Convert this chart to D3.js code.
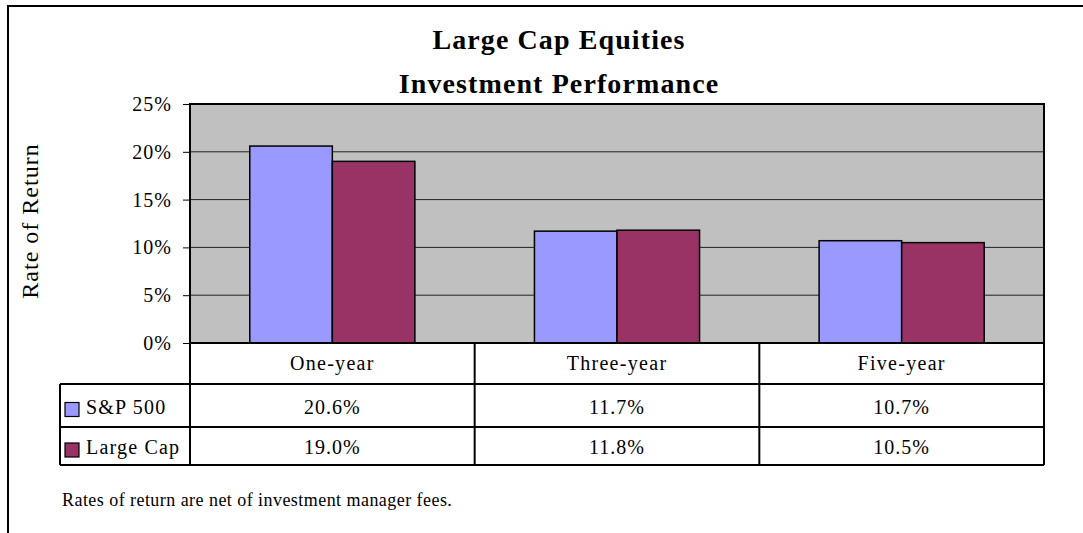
<!DOCTYPE html>
<html>
<head>
<meta charset="utf-8">
<script src="https://cdn.jsdelivr.net/npm/d3@7"></script>
<style>
  body { margin: 0; background: #fff; }
  svg text { font-family: "Liberation Serif", "Times New Roman", serif; fill: #000; }
</style>
</head>
<body>
<div id="chart"></div>
<script>
// chart data
var categories = ["One-year", "Three-year", "Five-year"];
var seriesNames = ["S&P 500", "Large Cap"];
var sp500 = [0.206, 0.117, 0.107];
var largeCap = [0.190, 0.118, 0.105];
var yTicks = [0, 0.05, 0.10, 0.15, 0.20, 0.25];
var titleLines = ["Large Cap Equities", "Investment Performance"];
var footnote = "Rates of return are net of investment manager fees.";

var seriesColor = d3.scaleOrdinal()
  .domain(seriesNames)
  .range(["#9999ff", "#993366"]);

var width = 1083, height = 533;
var plotLeft = 190, plotRight = 1044, plotTop = 104, plotBottom = 343;
var tableLeft = 60;
var rowTops = [343, 384, 427, 465];

var svg = d3.select("#chart").append("svg")
  .attr("width", width)
  .attr("height", height);

// outer chart frame, runs off the right and bottom edge
svg.append("rect")
  .attr("x", 8).attr("y", 6)
  .attr("width", 1200).attr("height", 700)
  .attr("fill", "none")
  .attr("stroke", "#000")
  .attr("stroke-width", 2);

// title
svg.append("g").selectAll("text")
  .data(titleLines)
  .enter().append("text")
    .attr("x", 559)
    .attr("y", (d, i) => 49 + i * 44)
    .attr("text-anchor", "middle")
    .attr("font-size", 28)
    .attr("font-weight", "bold")
    .attr("letter-spacing", 1.1)
    .text(d => d);

// scales
var x0 = d3.scaleBand().domain(categories).range([plotLeft, plotRight]);
var bw = x0.bandwidth();
var x1 = d3.scaleBand().domain(seriesNames).range([bw * 0.21, bw * 0.79]);
var y = d3.scaleLinear().domain([0, 0.25]).range([plotBottom, plotTop]);

// plot background
svg.append("rect")
  .attr("x", plotLeft).attr("y", plotTop)
  .attr("width", plotRight - plotLeft).attr("height", plotBottom - plotTop)
  .attr("fill", "#c0c0c0");

// gridlines
svg.append("g").selectAll("line")
  .data(yTicks.slice(1, -1))
  .enter().append("line")
    .attr("x1", plotLeft).attr("x2", plotRight)
    .attr("y1", d => y(d)).attr("y2", d => y(d))
    .attr("stroke", "#222")
    .attr("stroke-width", 1);

// y axis
var yAxis = svg.append("g")
  .attr("transform", "translate(" + plotLeft + ",0)")
  .call(d3.axisLeft(y).tickValues(yTicks).tickFormat(d3.format(".0%")).tickSize(7).tickPadding(11));
yAxis.select(".domain").remove();
yAxis.attr("font-family", "Liberation Serif").attr("font-size", 20);
yAxis.selectAll("line").attr("stroke", "#000");
yAxis.selectAll("text").attr("letter-spacing", 1);

svg.append("text")
  .attr("transform", "translate(38,221) rotate(-90)")
  .attr("text-anchor", "middle")
  .attr("font-size", 24)
  .attr("letter-spacing", 1)
  .text("Rate of Return");

// bars
var rows = categories.map((c, i) => ({cat: c, values: [sp500[i], largeCap[i]]}));
var groups = svg.append("g").selectAll("g")
  .data(rows)
  .enter().append("g")
    .attr("transform", d => "translate(" + x0(d.cat) + ",0)");
groups.selectAll("rect")
  .data(d => d.values.map((v, j) => ({name: seriesNames[j], value: v})))
  .enter().append("rect")
    .attr("x", d => x1(d.name))
    .attr("y", d => y(d.value))
    .attr("width", x1.bandwidth())
    .attr("height", d => y(0) - y(d.value))
    .attr("fill", d => seriesColor(d.name))
    .attr("stroke", "#000")
    .attr("stroke-width", 1.5);

// plot border
svg.append("rect")
  .attr("x", plotLeft).attr("y", plotTop)
  .attr("width", plotRight - plotLeft).attr("height", plotBottom - plotTop)
  .attr("fill", "none")
  .attr("stroke", "#000")
  .attr("stroke-width", 2);

// data table
var table = svg.append("g").attr("stroke", "#000").attr("stroke-width", 2);
table.append("line").attr("x1", plotLeft).attr("x2", plotLeft).attr("y1", rowTops[0]).attr("y2", rowTops[3]);
table.append("line").attr("x1", plotRight).attr("x2", plotRight).attr("y1", rowTops[0]).attr("y2", rowTops[3]);
table.selectAll(".vdiv")
  .data(categories.slice(1))
  .enter().append("line")
    .attr("x1", d => x0(d)).attr("x2", d => x0(d))
    .attr("y1", rowTops[0]).attr("y2", rowTops[3]);
table.selectAll(".hdiv")
  .data(rowTops.slice(1))
  .enter().append("line")
    .attr("x1", tableLeft).attr("x2", plotRight)
    .attr("y1", d => d).attr("y2", d => d);
table.append("line").attr("x1", tableLeft).attr("x2", tableLeft).attr("y1", rowTops[1]).attr("y2", rowTops[3]);

svg.append("g").selectAll("text")
  .data(categories)
  .enter().append("text")
    .attr("x", d => x0(d) + bw / 2)
    .attr("y", 370)
    .attr("text-anchor", "middle")
    .attr("font-size", 20)
    .attr("letter-spacing", 1.3)
    .text(d => d);

var fmt = d3.format(".1%");
[sp500, largeCap].forEach((vals, j) => {
  var rowY = rowTops[j + 1];
  var mid = rowY + (rowTops[j + 2] - rowY) / 2;
  var g = svg.append("g");
  g.append("rect")
    .attr("x", 65).attr("y", mid - 3)
    .attr("width", 14).attr("height", 14)
    .attr("fill", seriesColor(seriesNames[j]))
    .attr("stroke", "#000")
    .attr("stroke-width", 1.2);
  g.append("text")
    .attr("x", 86)
    .attr("y", mid + 8)
    .attr("font-size", 20)
    .attr("letter-spacing", 1.2)
    .text(seriesNames[j]);
  g.selectAll(".val")
    .data(vals)
    .enter().append("text")
      .attr("x", (d, i) => x0(categories[i]) + bw / 2)
      .attr("y", mid + 8)
      .attr("text-anchor", "middle")
      .attr("font-size", 20)
      .attr("letter-spacing", 1)
      .text(d => fmt(d));
});

// footnote
svg.append("text")
  .attr("x", 62)
  .attr("y", 506)
  .attr("font-size", 18)
  .attr("letter-spacing", 0.45)
  .text(footnote);
</script>
</body>
</html>
